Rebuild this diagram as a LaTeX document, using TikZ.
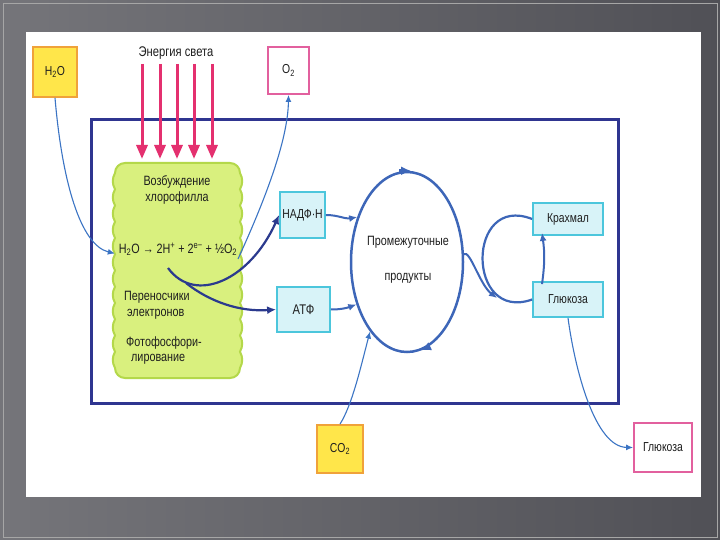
\documentclass[tikz,border=0pt]{standalone}
\usepackage{fontspec}
\setmainfont{Liberation Sans}[FakeStretch=0.8]
\usetikzlibrary{arrows.meta,shapes.geometric}
\definecolor{bgA}{HTML}{75757A}
\definecolor{bgB}{HTML}{505056}
\definecolor{framenavy}{HTML}{2F3590}
\definecolor{yelfill}{HTML}{FFE64A}
\definecolor{orangeline}{HTML}{F0A23A}
\definecolor{pinkline}{HTML}{E2609E}
\definecolor{cyanfill}{HTML}{D8F3F8}
\definecolor{cyanline}{HTML}{4CC6DC}
\definecolor{greenfill}{HTML}{D9F07E}
\definecolor{greenline}{HTML}{B4D84A}
\definecolor{pinkarrow}{HTML}{E4306F}
\definecolor{darkblue}{HTML}{2B3A8E}
\definecolor{midblue}{HTML}{3D66B8}
\definecolor{thinblue}{HTML}{3B74C4}
\definecolor{textcol}{HTML}{1E1E1E}
\begin{document}
\begin{tikzpicture}[x=1pt,y=-1pt,
  box/.style={draw, line width=1.8pt, inner sep=0pt, text=textcol, font=\fontsize{13}{15}\selectfont},
  yelbox/.style={box, fill=yelfill, draw=orangeline},
  pinkbox/.style={box, fill=white, draw=pinkline},
  cyanbox/.style={box, fill=cyanfill, draw=cyanline},
  thinarrow/.style={draw=thinblue, line width=1.1pt, -{Latex[length=7pt,width=6pt]}},
  thickarrow/.style={draw=darkblue, line width=2.2pt, -{Latex[length=9pt,width=8pt]}},
  midarrow/.style={draw=midblue, line width=2pt, -{Latex[length=8pt,width=7pt]}},
  cyctip/.style={draw=midblue, line width=2.5pt, -{Latex[length=10pt,width=9pt]}},
  lightarrow/.style={draw=pinkarrow, line width=3pt, -{Triangle[length=14pt,width=11pt]}},
  lbl/.style={inner sep=0pt, text=textcol},
  smalltxt/.style={lbl, font=\fontsize{13.5}{15}\selectfont}
]
\useasboundingbox (0,0) rectangle (720,540);
% slide background
\shade[left color=bgA, right color=bgB] (0,0) rectangle (720,540);
\draw[color=gray!70, line width=0.8pt] (3,3) rectangle (717,537);
\fill[white] (26,32) rectangle (701,497);

% outer frame
\draw[framenavy, line width=3pt] (91,120) rectangle (618,403);

% chlorophyll (green) box with scalloped sides
\node[minimum width=125pt, minimum height=215pt, inner sep=0pt] (chl) at (177.5,270.5) {};
\filldraw[draw=greenline, fill=greenfill, line width=2pt]
  (125,163) -- (230,163) to[out=0,in=90] (240,173)
  \foreach \k in {1,...,12}{ to[bend left=28] ++(0,16.25) }
  to[out=-90,in=0] (230,378) -- (125,378) to[out=180,in=-90] (115,368)
  \foreach \k in {1,...,12}{ to[bend left=28] ++(0,-16.25) }
  to[out=90,in=180] (125,163) -- cycle;

% light energy
\node[lbl, font=\fontsize{14}{16}\selectfont] (light) at (176,53) {Энергия света};
\foreach \xx/\nm in {142/la,160/lb,177/lc,194/ld,212/le}{
  \coordinate (\nm s) at (\xx,64);
  \coordinate (\nm e) at (\xx,159);
  \draw[lightarrow] (\nm s) -- (\nm e);
}

% boxes
\node[yelbox, minimum width=44pt, minimum height=50pt] (h2o) at (55,72) {H\textsubscript{2}O};
\node[pinkbox, minimum width=41pt, minimum height=47pt] (o2) at (288.5,70.5) {O\textsubscript{2}};
\node[yelbox, minimum width=46pt, minimum height=48pt] (co2) at (340,449) {CO\textsubscript{2}};
\node[pinkbox, minimum width=58pt, minimum height=49pt] (glu2) at (663,447.5) {Глюкоза};
\node[cyanbox, minimum width=45pt, minimum height=46pt] (nadph) at (302.5,215) {НАДФ·Н};
\node[cyanbox, minimum width=53pt, minimum height=45pt, font=\fontsize{14}{16}\selectfont] (atf) at (303.5,309.5) {АТФ};
\node[cyanbox, minimum width=70pt, minimum height=32pt] (starch) at (568,219) {Крахмал};
\node[cyanbox, minimum width=70pt, minimum height=35pt] (glu1) at (568,299.5) {Глюкоза};

% texts in the green box
\node[smalltxt] (t1) at (177,182) {Возбуждение};
\node[smalltxt] (t2) at (177,198) {хлорофилла};
\node[lbl, font=\fontsize{13.5}{15}\selectfont] (eq) at (178,249)
  {H\textsubscript{2}O → 2H\textsuperscript{+} + 2\textsuperscript{e−} + ½O\textsubscript{2}};
\node[smalltxt, anchor=west] (t3) at (124,297) {Переносчики};
\node[smalltxt, anchor=west] (t4) at (127,314) {электронов};
\node[smalltxt, anchor=west] (t5) at (126,343) {Фотофосфори-};
\node[smalltxt, anchor=west] (t6) at (131,359) {лирование};

% cycle ellipse
\node[ellipse, draw=midblue, line width=2.5pt, minimum width=112pt, minimum height=180pt, inner sep=0pt] (cyc) at (407,262) {};
\draw[cyctip] ([xshift=-8pt]cyc.north) -- ([xshift=4pt]cyc.north);
\draw[cyctip] ([xshift=22pt,yshift=6.5pt]cyc.south) -- ([xshift=14pt,yshift=2.9pt]cyc.south);
\node[smalltxt] (p1) at (408,242) {Промежуточные};
\node[smalltxt] (p2) at (408,278) {продукты};

% starch/glucose loop
\coordinate (loopin) at (497,298);
\draw[midblue, line width=2.2pt] (starch.west) .. controls (466,193) and (466,323) .. (glu1.west);
\draw[midblue, line width=2pt, -{Latex[length=8pt,width=7pt]}]
  ([xshift=-26pt,yshift=-3pt]glu1.north) to[bend right=8] ([xshift=-26pt,yshift=3pt]starch.south);
\draw[midarrow] (cyc.8) .. controls (470,250) and (480,285) .. (loopin);

% connectors
\coordinate (split) at (168,268);
\coordinate (split2) at (186,283);
\coordinate (o2src) at (238,259);
\draw[thinarrow] (h2o.south) .. controls (62,180) and (80,245) .. ([yshift=17pt]chl.west);
\draw[thinarrow] (o2src) .. controls (265,200) and (288,140) .. (o2.south);
\draw[thickarrow] (split) .. controls (195,305) and (250,280) .. (nadph.west);
\draw[thickarrow] (split2) .. controls (210,302) and (240,312) .. (atf.west);
\draw[midarrow] (nadph.east) to[out=0, in=190] (cyc.138);
\draw[midarrow] (atf.east) to[out=0, in=200] (cyc.220);
\draw[thinarrow] (co2.north) .. controls (352,405) and (360,370) .. (cyc.242);
\draw[thinarrow] (glu1.south) .. controls (575,370) and (595,447) .. (glu2.west);
\end{tikzpicture}
\end{document}
